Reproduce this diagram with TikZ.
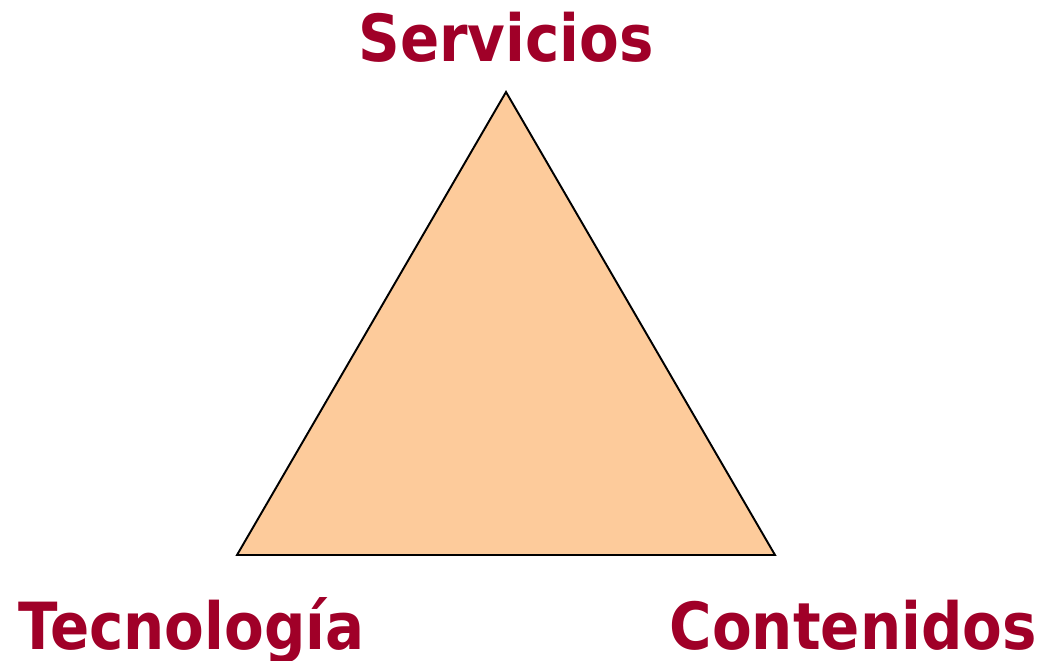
\documentclass[tikz,border=0pt]{standalone}
\usepackage{fontspec}
\setmainfont{DejaVu Sans}[FakeStretch=0.89]
\usepackage{xcolor}
\usetikzlibrary{calc}

\definecolor{vertexred}{HTML}{A00028}
\definecolor{peach}{HTML}{FDCB9B}

\tikzset{
  vertexlabel/.style={text=vertexred, font=\bfseries\fontsize{37}{37}\selectfont, inner sep=0pt}
}

\begin{document}
\begin{tikzpicture}[x=0.02cm,y=-0.02cm]
      \useasboundingbox (0,0) rectangle (1043,660);

      % Corners
      \coordinate (S) at (506,92);
      \coordinate (T) at (237,555);
      \coordinate (C) at (775,555);

      % Triangle
      \draw[fill=peach, line width=1.1pt, line join=miter] (S) -- (C) -- (T) -- cycle;

      % Labels
      \node[vertexlabel, anchor=base] (serv) at (506,61) {Servicios};
      \node[vertexlabel, anchor=base west] (tecn) at (18,649) {Tecnología};
      \node[vertexlabel, anchor=base east] (cont) at (1037,649) {Contenidos};

\end{tikzpicture}
\end{document}
